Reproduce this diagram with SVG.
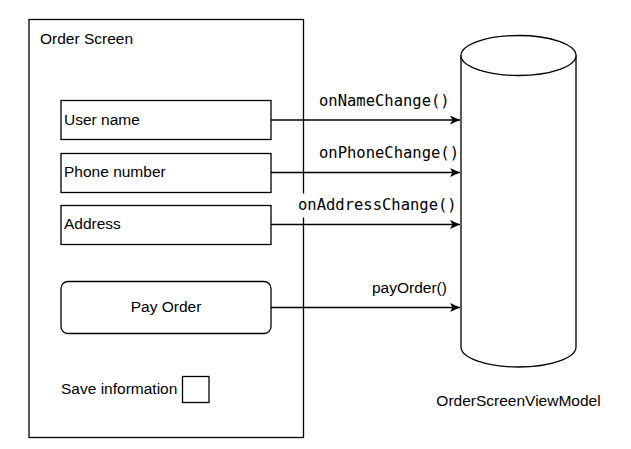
<svg xmlns="http://www.w3.org/2000/svg" width="631" height="449" viewBox="0 0 631 449">
  <style>
    .box { fill: #ffffff; stroke: #000000; stroke-width: 1.3; }
    .t { font-family: "Liberation Sans", Arial, sans-serif; font-size: 15.5px; fill: #000000; }
    .m { font-family: "DejaVu Sans Mono", monospace; font-size: 15.5px; fill: #000000; }
    .edge { fill: none; stroke: #000000; stroke-width: 1.3; }
  </style>
  <defs>
    <marker id="arrow" markerUnits="userSpaceOnUse" markerWidth="12" markerHeight="10" refX="10" refY="4.5" orient="auto">
      <path d="M0,0 L10,4.5 L0,9 L2.5,4.5 Z" fill="#000000"/>
    </marker>
  </defs>
  <rect width="631" height="449" fill="#ffffff"/>

  <g id="order-screen">
    <rect class="box" x="29" y="19.5" width="274.5" height="418"/>
    <text class="t" x="40" y="44">Order Screen</text>
  </g>

  <g id="user-name">
    <rect class="box" x="61" y="100.5" width="210" height="39"/>
    <text class="t" x="64" y="125">User name</text>
  </g>

  <g id="phone-number">
    <rect class="box" x="61" y="153.5" width="210" height="39"/>
    <text class="t" x="64" y="177">Phone number</text>
  </g>

  <g id="address">
    <rect class="box" x="61" y="205.5" width="210" height="39"/>
    <text class="t" x="64" y="229">Address</text>
  </g>

  <g id="pay-order">
    <rect class="box" x="61" y="281.5" width="210" height="52" rx="7" ry="7"/>
    <text class="t" x="166" y="312" text-anchor="middle">Pay Order</text>
  </g>

  <g id="save-information">
    <text class="t" x="61" y="394">Save information</text>
    <rect class="box" x="182.5" y="376.5" width="26.5" height="26"/>
  </g>

  <g id="view-model">
    <path class="box" d="M461,55 L461,347 A57.5,20 0 0 0 576,347 L576,55"/>
    <ellipse class="box" cx="518.5" cy="55.5" rx="57.5" ry="20"/>
    <text class="t" x="518.5" y="406" text-anchor="middle">OrderScreenViewModel</text>
  </g>

  <g id="connectors">
    <line class="edge" x1="271" y1="120" x2="460" y2="120" marker-end="url(#arrow)"/>
    <text class="m" x="319" y="105.5">onNameChange()</text>

    <line class="edge" x1="271" y1="172.5" x2="460" y2="172.5" marker-end="url(#arrow)"/>
    <text class="m" x="319" y="157.5">onPhoneChange()</text>

    <line class="edge" x1="271" y1="224.5" x2="460" y2="224.5" marker-end="url(#arrow)"/>
    <rect x="297" y="193.5" width="161" height="24" fill="#ffffff"/>
    <text class="m" x="298" y="210">onAddressChange()</text>

    <line class="edge" x1="271" y1="307.5" x2="460" y2="307.5" marker-end="url(#arrow)"/>
    <text class="t" x="372" y="292.5">payOrder()</text>
  </g>
</svg>
